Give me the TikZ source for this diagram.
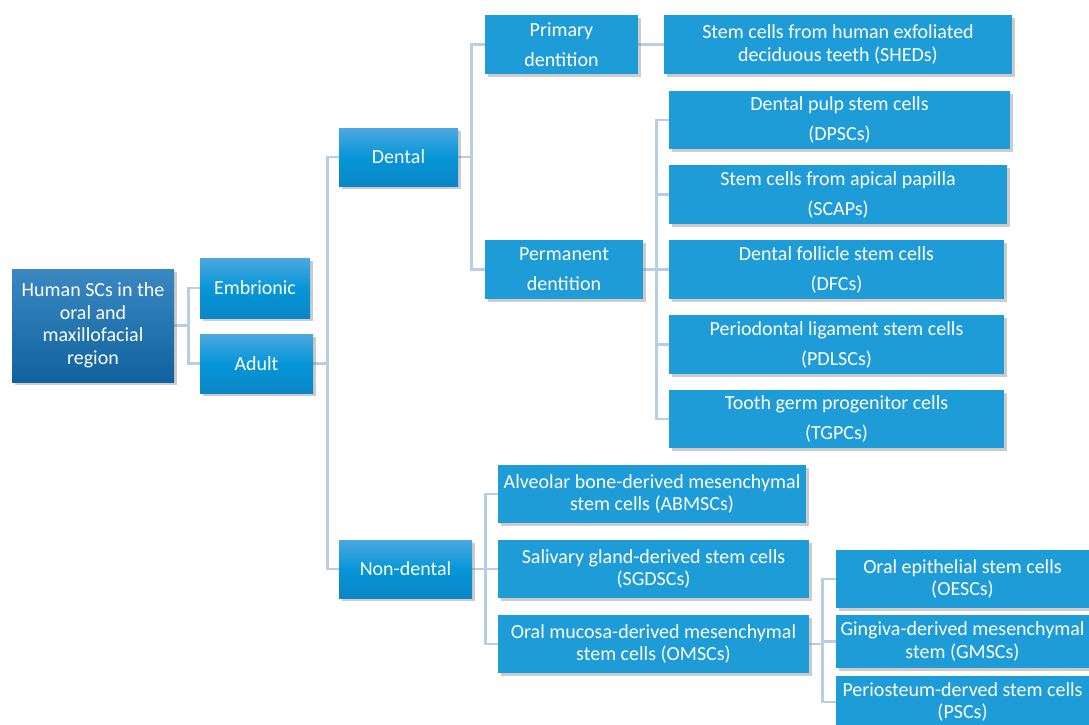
\documentclass[tikz,border=0pt]{standalone}
\usepackage{fontspec}
\setmainfont{Carlito}
\usepackage{tikz}
\usetikzlibrary{shadows,backgrounds}
\definecolor{boxblue}{RGB}{30,156,216}
\definecolor{linkblue}{RGB}{182,206,231}
\definecolor{roottop}{RGB}{58,136,194}
\definecolor{rootbot}{RGB}{16,98,158}
\definecolor{midtop}{RGB}{76,168,224}
\definecolor{midmid}{RGB}{6,150,215}
\definecolor{midbot}{RGB}{10,134,198}
\tikzset{
	box/.style={rectangle, inner sep=0pt, text=white, align=center,
		font=\fontsize{20}{22.5}\selectfont,
		drop shadow={opacity=0.4, shadow xshift=2.5pt, shadow yshift=-2.5pt}},
	leaf/.style={box, fill=boxblue},
	wideleaf/.style={leaf, font=\fontsize{20}{30}\selectfont},
	branch/.style={box, top color=midtop, bottom color=midbot, middle color=midmid},
	rootbox/.style={box, top color=roottop, bottom color=rootbot},
	link/.style={draw=linkblue, line width=2.6pt}
}

\begin{document}
\begin{tikzpicture}[x=1pt, y=-1pt]
			%%%%% START %%%%%
			\useasboundingbox (0, 0) rectangle (1089, 724);
			
			\node[rootbox, minimum width=162, minimum height=113] (root) at (93, 325.5) {Human SCs in the\\oral and\\maxillofacial\\region};
			
			\node[branch, minimum width=110, minimum height=60] (emb) at (255, 288) {Embrionic};
			\node[branch, minimum width=113, minimum height=59] (adult) at (256.5, 363.5) {Adult};
			
			\node[branch, minimum width=119, minimum height=58] (dental) at (398.5, 157) {Dental};
			\node[branch, minimum width=133, minimum height=58] (nondental) at (405.5, 569) {Non-dental};
			
			\node[wideleaf, minimum width=153, minimum height=59] (primary) at (561.5, 44.5) {Primary\\dentition};
			\node[wideleaf, minimum width=158, minimum height=59] (permanent) at (564, 269.5) {Permanent\\dentition};
			
			\node[leaf, minimum width=348, minimum height=59] (sheds) at (838, 44.5) {Stem cells from human exfoliated\\deciduous teeth (SHEDs)};
			
			\node[wideleaf, minimum width=341, minimum height=58] (dpsc) at (839.5, 120) {Dental pulp stem cells\\(DPSCs)};
			\node[wideleaf, minimum width=338, minimum height=59] (scap) at (838, 194.5) {Stem cells from apical papilla\\(SCAPs)};
			\node[wideleaf, minimum width=335, minimum height=59] (dfc) at (836.5, 269.5) {Dental follicle stem cells\\(DFCs)};
			\node[wideleaf, minimum width=335, minimum height=59] (pdlsc) at (836.5, 344.5) {Periodontal ligament stem cells\\(PDLSCs)};
			\node[wideleaf, minimum width=335, minimum height=58] (tgpc) at (836.5, 419) {Tooth germ progenitor cells\\(TGPCs)};
			
			\node[leaf, minimum width=308, minimum height=58] (abmsc) at (652, 494) {Alveolar bone-derived mesenchymal\\stem cells (ABMSCs)};
			\node[leaf, minimum width=311, minimum height=58] (sgdsc) at (653.5, 569) {Salivary gland-derived stem cells\\(SGDSCs)};
			\node[leaf, minimum width=311, minimum height=58] (omsc) at (653.5, 644) {Oral mucosa-derived mesenchymal\\stem cells (OMSCs)};
			
			\node[leaf, minimum width=253, minimum height=58] (oesc) at (962.5, 579) {Oral epithelial stem cells\\(OESCs)};
			\node[leaf, minimum width=253, minimum height=53] (gmsc) at (962.5, 641.5) {Gingiva-derived mesenchymal\\stem (GMSCs)};
			\node[leaf, minimum width=253, minimum height=52] (psc) at (962.5, 702) {Periosteum-derved stem cells\\(PSCs)};
			
			\begin{scope}[on background layer]
				\draw[link] (root.east) -- ++(14, 0) |- (emb.west);
				\draw[link] (root.east) -- ++(14, 0) |- (adult.west);
				
				\draw[link] (adult.east) -- ++(14, 0) |- (dental.west);
				\draw[link] (adult.east) -- ++(14, 0) |- (nondental.west);
				
				\draw[link] (dental.east) -- ++(13, 0) |- (primary.west);
				\draw[link] (dental.east) -- ++(13, 0) |- (permanent.west);
				
				\draw[link] (primary.east) -- (sheds.west);
				
				\foreach \leafname in {dpsc, scap, dfc, pdlsc, tgpc}
					\draw[link] (permanent.east) -- ++(13, 0) |- (\leafname.west);
				
				\foreach \leafname in {abmsc, sgdsc, omsc}
					\draw[link] (nondental.east) -- ++(13, 0) |- (\leafname.west);
				
				\foreach \leafname in {oesc, gmsc, psc}
					\draw[link] (omsc.east) -- ++(13, 0) |- (\leafname.west);
			\end{scope}
			
			%%%%% END %%%%%
\end{tikzpicture}
\end{document}
